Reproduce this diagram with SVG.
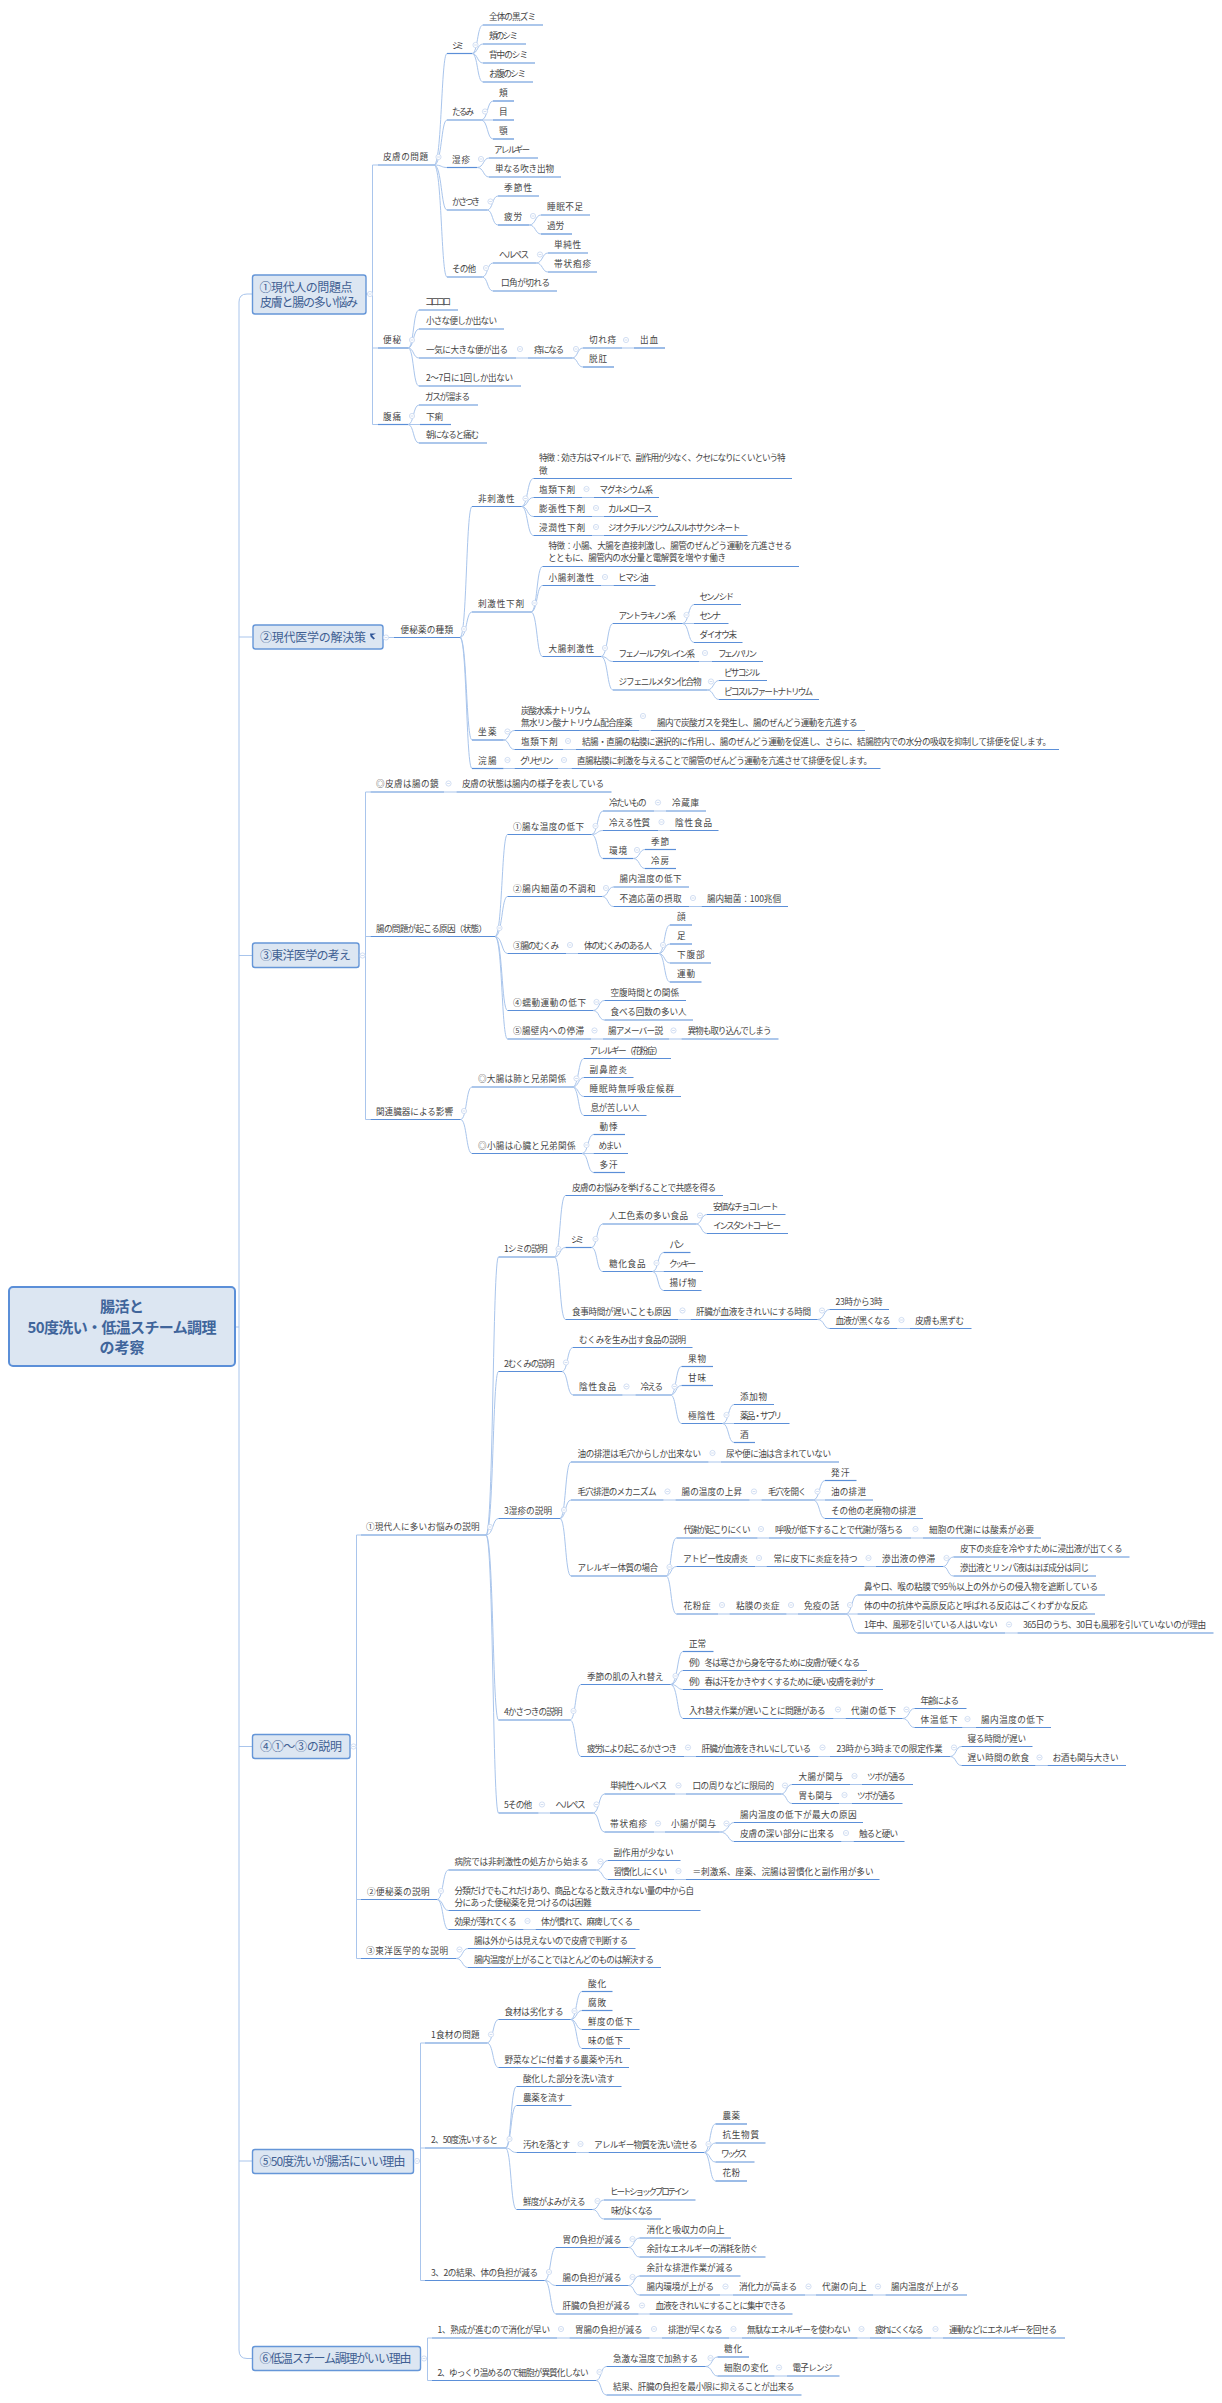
<svg xmlns="http://www.w3.org/2000/svg" width="1222" height="2403" viewBox="0 0 1222 2403">
<style>
text{font-family:"Noto Sans CJK JP","Liberation Sans",sans-serif;font-size:8.6px;fill:#444}
path{fill:none;stroke:#5b8fd8;stroke-width:1.2}
rect{fill:#dce6f2;stroke:#6596d8;stroke-width:1.4}
.l1{font-size:12px;fill:#3f5f92}
.r{font-size:15px;font-weight:700;fill:#40659b;text-anchor:middle}
#connectors path{stroke:#a9c5ec;stroke-width:1}
#b circle{fill:#fff;stroke:#c6d6ef;stroke-width:.8}
#b path{stroke:#c6d6ef;stroke-width:.8}
</style>
<defs><g id="b"><circle r="2.6"/><path d="M-1.4 0H1.4"/></g></defs>
<rect width="1222" height="2403" style="fill:#fff;stroke:none"/>
<g id="connectors">
<path d="M236 1327H239M252 294H247Q239 294 239 302V2350Q239 2358.5 247 2358.5H252M239 637H252M239 955.5H252M239 1746.5H252M239 2161H252"/>
<path d="M366 294H372.5M372.5 165V424.5M372.5 165H378M372.5 348H378M372.5 424.5H378"/>
<path d="M434 165C442 165 441 53.5 447 53.5M434 165C442 165 441 120 447 120M434 165C442 165 441 167.5 447 167.5M434 165C442 165 441 210 447 210M434 165C442 165 441 277 447 277"/>
<path d="M472 53.5C478 53.5 477 25 483 25M472 53.5C478 53.5 477 44 483 44M472 53.5C478 53.5 477 63 483 63M472 53.5C478 53.5 477 82 483 82"/>
<path d="M481 120C488 120 487 101 493 101M481 120H493M481 120C488 120 487 139 493 139"/>
<path d="M477 167.5C484 167.5 483 158 489 158M477 167.5C484 167.5 483 177 489 177"/>
<path d="M487 210C493 210 492 196 498 196M487 210C493 210 492 225 498 225"/>
<path d="M529 225C536 225 535 215 541 215M529 225C536 225 535 234 541 234"/>
<path d="M482 277C488 277 487 263 493 263M482 277C488 277 487 291 493 291"/>
<path d="M536 263C543 263 542 253 548 253M536 263C543 263 542 272 548 272"/>
<path d="M408 348C414 348 413 310 419 310M408 348C414 348 413 329 419 329M408 348C414 348 413 358 419 358M408 348C414 348 413 386 419 386"/>
<path d="M516 358H528M572 358C578 358 577 348 583 348M572 358C578 358 577 367 583 367M622 348H634"/>
<path d="M408 424.5C414 424.5 413 405 419 405M408 424.5H420M408 424.5C414 424.5 413 443 419 443"/>
<path d="M383 637.5H394M460 637.5C467 637.5 466 506.5 472 506.5M460 637.5C467 637.5 466 612 472 612M460 637.5C467 637.5 466 740 472 740M460 637.5C467 637.5 466 768.5 472 768.5"/>
<path d="M521.5 506.5C528 506.5 527 478.5 533.5 478.5M521.5 506.5C528 506.5 527 497.5 533.5 497.5M521.5 506.5C528 506.5 527 516.5 533.5 516.5M521.5 506.5C528 506.5 527 535.5 533.5 535.5"/>
<path d="M582 497.5H594M592 516.5H604M592 535.5H604"/>
<path d="M531 612C537.5 612 536.5 566.5 542.5 566.5M531 612C537.5 612 536.5 585.5 542.5 585.5M531 612C537.5 612 536.5 656.5 542.5 656.5M601 585.5H613.5"/>
<path d="M601 656.5C608 656.5 607 623.5 613 623.5M601 656.5C608 656.5 607 661.5 613 661.5M601 656.5C608 656.5 607 690 613 690"/>
<path d="M682.5 623.5C689 623.5 688 604.5 694 604.5M682.5 623.5H694M682.5 623.5C689 623.5 688 642.5 694 642.5M699 661.5H712"/>
<path d="M707 690C714 690 713 680.5 719 680.5M707 690C714 690 713 699.5 719 699.5"/>
<path d="M503.5 740C509.5 740 508.5 730.5 514.5 730.5M503.5 740C509.5 740 508.5 749.5 514.5 749.5M639 730.5H651M563 749.5H576M503.5 768.5H514.5M558 768.5H571.5"/>
<path d="M359 955.5H365.5M365.5 792V1119.5M365.5 792H370.5M365.5 936.5H370.5M365.5 1119.5H370.5M444 792H456.5"/>
<path d="M495 936.5C502.5 936.5 501.5 834.5 507.5 834.5M495 936.5C502.5 936.5 501.5 896.5 507.5 896.5M495 936.5C502.5 936.5 501.5 953.5 507.5 953.5M495 936.5C502.5 936.5 501.5 1010.5 507.5 1010.5M495 936.5C502.5 936.5 501.5 1039 507.5 1039"/>
<path d="M591.5 834.5C598 834.5 597 811 603 811M591.5 834.5C598 834.5 597 830.5 603 830.5M591.5 834.5C598 834.5 597 858.5 603 858.5M654 811H666M658 830.5H670"/>
<path d="M633 858.5C640 858.5 639 849.5 645 849.5M633 858.5C640 858.5 639 868.5 645 868.5"/>
<path d="M602 896.5C608.5 896.5 607.5 887 613.5 887M602 896.5C608.5 896.5 607.5 906.5 613.5 906.5M689 906.5H701.5"/>
<path d="M566 953.5H578M658.5 953.5C665 953.5 664 925 670 925M658.5 953.5C665 953.5 664 944 670 944M658.5 953.5C665 953.5 664 963 670 963M658.5 953.5C665 953.5 664 982 670 982"/>
<path d="M593 1010.5C599.5 1010.5 598.5 1000.5 604.5 1000.5M593 1010.5C599.5 1010.5 598.5 1020 604.5 1020M591 1039H603M669 1039H681.5"/>
<path d="M460.5 1119.5C467 1119.5 466 1087 472 1087M460.5 1119.5C467 1119.5 466 1153.5 472 1153.5"/>
<path d="M572.5 1087C579 1087 578 1058.5 584 1058.5M572.5 1087C579 1087 578 1077.5 584 1077.5M572.5 1087C579 1087 578 1096.5 584 1096.5M572.5 1087C579 1087 578 1115.5 584 1115.5"/>
<path d="M582 1153.5C588.5 1153.5 587.5 1134.5 593.5 1134.5M582 1153.5H593.5M582 1153.5C588.5 1153.5 587.5 1172.5 593.5 1172.5"/>
<path d="M350 1746.5H356.5M356.5 1535V1958.5M356.5 1535H361M356.5 1899.5H361M356.5 1958.5H361"/>
<path d="M486 1535C493.5 1535 492.5 1257 498.5 1257M486 1535C493.5 1535 492.5 1371.5 498.5 1371.5M486 1535C493.5 1535 492.5 1518.5 498.5 1518.5M486 1535C493.5 1535 492.5 1720 498.5 1720M486 1535C493.5 1535 492.5 1813 498.5 1813"/>
<path d="M554.5 1257C560.5 1257 559.5 1195.5 565.5 1195.5M554.5 1257C560.5 1257 559.5 1247.5 565.5 1247.5M554.5 1257C560.5 1257 559.5 1319.5 565.5 1319.5"/>
<path d="M591.5 1247.5C597.5 1247.5 596.5 1224 602.5 1224M591.5 1247.5C597.5 1247.5 596.5 1271.5 602.5 1271.5"/>
<path d="M696 1224C702 1224 701 1214.5 707 1214.5M696 1224C702 1224 701 1233.5 707 1233.5"/>
<path d="M652.5 1271.5C658.5 1271.5 657.5 1252.5 663.5 1252.5M652.5 1271.5H663.5M652.5 1271.5C658.5 1271.5 657.5 1290.5 663.5 1290.5"/>
<path d="M678 1319.5H690.5M817.5 1319.5C824.5 1319.5 823.5 1309.5 829.5 1309.5M817.5 1319.5C824.5 1319.5 823.5 1328.5 829.5 1328.5M897 1328.5H910"/>
<path d="M562 1371.5C568 1371.5 567 1347.5 573 1347.5M562 1371.5C568 1371.5 567 1395 573 1395M622.5 1395H635.5"/>
<path d="M670.5 1395C676.5 1395 675.5 1366.5 681.5 1366.5M670.5 1395C676.5 1395 675.5 1385.5 681.5 1385.5M670.5 1395C676.5 1395 675.5 1423.5 681.5 1423.5"/>
<path d="M722.5 1423.5C729 1423.5 728 1404.5 734 1404.5M722.5 1423.5H734M722.5 1423.5C729 1423.5 728 1442.5 734 1442.5"/>
<path d="M560 1518.5C566 1518.5 565 1462 571 1462M560 1518.5C566 1518.5 565 1500 571 1500M560 1518.5C566 1518.5 565 1576 571 1576M708.5 1462H721M663.5 1500H675.5M749.5 1500H761.5"/>
<path d="M813 1500C820 1500 819 1480.5 825 1480.5M813 1500H825M813 1500C820 1500 819 1518.5 825 1518.5"/>
<path d="M666 1576C671.5 1576 670.5 1538 676.5 1538M666 1576C671.5 1576 670.5 1566.5 676.5 1566.5M666 1576C671.5 1576 670.5 1614 676.5 1614M757.5 1538H769M911 1538H923M755 1566.5H766.5M864.5 1566.5H876"/>
<path d="M943 1566.5C948.5 1566.5 947.5 1557 953.5 1557M943 1566.5C948.5 1566.5 947.5 1576 953.5 1576M718 1614H729.5M786.5 1614H798"/>
<path d="M845.5 1614C852.5 1614 851.5 1595 857.5 1595M845.5 1614H857.5M845.5 1614C852.5 1614 851.5 1633 857.5 1633M1005 1633H1017.5"/>
<path d="M570 1720C576 1720 575 1684.5 581 1684.5M570 1720C576 1720 575 1756.5 581 1756.5"/>
<path d="M670.5 1684.5C678 1684.5 677 1651.5 683 1651.5M670.5 1684.5C678 1684.5 677 1670.5 683 1670.5M670.5 1684.5C678 1684.5 677 1689.5 683 1689.5M670.5 1684.5C678 1684.5 677 1718.5 683 1718.5M833.5 1718.5H845.5"/>
<path d="M902.5 1718.5C909.5 1718.5 908.5 1708.5 914.5 1708.5M902.5 1718.5C909.5 1718.5 908.5 1727.5 914.5 1727.5M962.5 1727.5H976"/>
<path d="M684 1756.5H696M818.5 1756.5H830M950 1756.5C956.5 1756.5 955.5 1746.5 961.5 1746.5M950 1756.5C956.5 1756.5 955.5 1765.5 961.5 1765.5M1035.5 1765.5H1047.5"/>
<path d="M538.5 1813H550M593 1813C599.5 1813 598.5 1794 604.5 1794M593 1813C599.5 1813 598.5 1832 604.5 1832M675 1794H686"/>
<path d="M781 1794C787 1794 786 1784.5 792 1784.5M781 1794C787 1794 786 1803.5 792 1803.5M850 1784.5H862M839 1803.5H852"/>
<path d="M654 1832H665M719.5 1832C729 1832 728 1822.5 734 1822.5M719.5 1832C729 1832 728 1841.5 734 1841.5M841.5 1841.5H853.5"/>
<path d="M437 1899.5C443.5 1899.5 442.5 1870 448.5 1870M437 1899.5C443.5 1899.5 442.5 1910.5 448.5 1910.5M437 1899.5C443.5 1899.5 442.5 1929.5 448.5 1929.5M523.5 1929.5H535.5"/>
<path d="M596 1870C603 1870 602 1860.5 608 1860.5M596 1870C603 1870 602 1879.5 608 1879.5M674 1879.5H686"/>
<path d="M456 1958.5C463 1958.5 462 1948.5 468 1948.5M456 1958.5C463 1958.5 462 1967.5 468 1967.5"/>
<path d="M413.5 2161H420.5M420.5 2043V2280.5M420.5 2043H425M420.5 2148H425M420.5 2280.5H425"/>
<path d="M487 2043C493.5 2043 492.5 2019.5 498.5 2019.5M487 2043C493.5 2043 492.5 2067.5 498.5 2067.5"/>
<path d="M570.5 2019.5C577 2019.5 576 1991.5 582 1991.5M570.5 2019.5C577 2019.5 576 2010.5 582 2010.5M570.5 2019.5C577 2019.5 576 2029.5 582 2029.5M570.5 2019.5C577 2019.5 576 2048.5 582 2048.5"/>
<path d="M505.5 2148C511.5 2148 510.5 2086.5 516.5 2086.5M505.5 2148C511.5 2148 510.5 2105.5 516.5 2105.5M505.5 2148C511.5 2148 510.5 2152.5 516.5 2152.5M505.5 2148C511.5 2148 510.5 2209.5 516.5 2209.5M576 2152.5H588.5"/>
<path d="M704 2152.5C710.5 2152.5 709.5 2124 715.5 2124M704 2152.5C710.5 2152.5 709.5 2143 715.5 2143M704 2152.5C710.5 2152.5 709.5 2162 715.5 2162M704 2152.5C710.5 2152.5 709.5 2181 715.5 2181"/>
<path d="M592.5 2209.5C599 2209.5 598 2200 604 2200M592.5 2209.5C599 2209.5 598 2219 604 2219"/>
<path d="M544.5 2280.5C551 2280.5 550 2247.5 556 2247.5M544.5 2280.5C551 2280.5 550 2285.5 556 2285.5M544.5 2280.5C551 2280.5 550 2314 556 2314"/>
<path d="M628.5 2247.5C634.5 2247.5 633.5 2238 639.5 2238M628.5 2247.5C634.5 2247.5 633.5 2257 639.5 2257M628.5 2285.5C634.5 2285.5 633.5 2276 639.5 2276M628.5 2285.5C634.5 2285.5 633.5 2295 639.5 2295"/>
<path d="M720 2295H733M805 2295H816M873 2295H885.5M638.5 2314H649.5"/>
<path d="M420.5 2358.5H427.5M427.5 2338V2380.5M427.5 2338H432M427.5 2380.5H432M557 2338H569.5M649.5 2338H662M729 2338H742M857.5 2338H870M931 2338H943"/>
<path d="M596 2380.5C601.5 2380.5 600.5 2366.5 606.5 2366.5M596 2380.5C601.5 2380.5 600.5 2395 606.5 2395"/>
<path d="M705.5 2366.5C712.5 2366.5 711.5 2357 717.5 2357M705.5 2366.5C712.5 2366.5 711.5 2376 717.5 2376M774.5 2376H787"/>
</g>
<g id="root"><rect x="9" y="1287" width="226" height="79" rx="4" style="stroke-width:2;stroke:#5b8fd8"/><text class="r" x="122" y="1312" textLength="44">腸活と</text><text class="r" x="122" y="1332.5" textLength="189">50度洗い・低温スチーム調理</text><text class="r" x="122" y="1353" textLength="45">の考察</text></g>
<g id="t1"><rect x="252.5" y="275" width="113.5" height="39" rx="2.5"/><text class="l1" x="259.5" y="291.5" textLength="93">①現代人の問題点</text><text class="l1" x="260" y="306.5" textLength="98">皮膚と腸の多い悩み</text><use href="#b" x="370" y="294"/></g>
<g id="n1"><text x="383" y="160" textLength="45">皮膚の問題</text><path d="M378 165H434"/><use href="#b" x="438.5" y="157"/></g>
<g id="n2"><text x="452" y="48.5" textLength="12">シミ</text><path d="M447 53.5H472"/><use href="#b" x="475.5" y="45"/></g>
<g id="n3"><text x="489" y="20" textLength="47">全体の黒ズミ</text><path d="M483 25H543"/></g>
<g id="n4"><text x="489" y="39" textLength="29">頬のシミ</text><path d="M483 44H526"/></g>
<g id="n5"><text x="489" y="58" textLength="39">背中のシミ</text><path d="M483 63H535"/></g>
<g id="n6"><text x="489" y="77" textLength="37">お腹のシミ</text><path d="M483 82H533"/></g>
<g id="n7"><text x="452" y="115" textLength="22">たるみ</text><path d="M447 120H481"/><use href="#b" x="485" y="111.5"/></g>
<g id="n8"><text x="499" y="96" textLength="8">頬</text><path d="M493 101H514"/></g>
<g id="n9"><text x="499" y="115" textLength="8">目</text><path d="M493 120H514"/></g>
<g id="n10"><text x="499" y="134" textLength="8">顎</text><path d="M493 139H514"/></g>
<g id="n11"><text x="452" y="162.5" textLength="18">湿疹</text><path d="M447 167.5H477"/><use href="#b" x="481" y="159"/></g>
<g id="n12"><text x="494" y="153" textLength="36">アレルギー</text><path d="M489 158H538"/></g>
<g id="n13"><text x="495" y="172" textLength="59">単なる吹き出物</text><path d="M489 177H561"/></g>
<g id="n14"><text x="452" y="205" textLength="28">かさつき</text><path d="M447 210H487"/><use href="#b" x="490.5" y="201.5"/></g>
<g id="n15"><text x="504" y="191" textLength="28">季節性</text><path d="M498 196H539"/></g>
<g id="n16"><text x="504" y="220" textLength="18">疲労</text><path d="M498 225H529"/><use href="#b" x="533" y="216"/></g>
<g id="n17"><text x="547" y="210" textLength="36">睡眠不足</text><path d="M541 215H590"/></g>
<g id="n18"><text x="547" y="229" textLength="17">過労</text><path d="M541 234H572"/></g>
<g id="n19"><text x="452" y="272" textLength="24">その他</text><path d="M447 277H482"/><use href="#b" x="486" y="268"/></g>
<g id="n20"><text x="499" y="258" textLength="30">ヘルペス</text><path d="M493 263H536"/><use href="#b" x="540" y="254.5"/></g>
<g id="n21"><text x="554" y="248" textLength="27">単純性</text><path d="M548 253H588"/></g>
<g id="n22"><text x="554" y="267" textLength="37">帯状疱疹</text><path d="M548 272H597"/></g>
<g id="n23"><text x="501" y="286" textLength="49">口角が切れる</text><path d="M493 291H557"/></g>
<g id="n24"><text x="383" y="343" textLength="18">便秘</text><path d="M378 348H408"/><use href="#b" x="412" y="340"/></g>
<g id="n25"><text x="425" y="305" textLength="26">コロコロ</text><path d="M419 310H458"/></g>
<g id="n26"><text x="426" y="324" textLength="71">小さな便しか出ない</text><path d="M419 329H504"/></g>
<g id="n27"><text x="426" y="353" textLength="82">一気に大きな便が出る</text><path d="M419 358H516"/><use href="#b" x="520" y="349"/></g>
<g id="n28"><text x="534" y="353" textLength="30">痔になる</text><path d="M528 358H572"/><use href="#b" x="576" y="349"/></g>
<g id="n29"><text x="589" y="343" textLength="27">切れ痔</text><path d="M583 348H622"/><use href="#b" x="626" y="340"/></g>
<g id="n30"><text x="640" y="343" textLength="18">出血</text><path d="M634 348H665"/></g>
<g id="n31"><text x="589" y="362" textLength="18">脱肛</text><path d="M583 367H614"/></g>
<g id="n32"><text x="426" y="381" textLength="87">2～7日に1回しか出ない</text><path d="M419 386H521"/></g>
<g id="n33"><text x="383" y="419.5" textLength="18">腹痛</text><path d="M378 424.5H408"/><use href="#b" x="412" y="416"/></g>
<g id="n34"><text x="425" y="400" textLength="45">ガスが溜まる</text><path d="M419 405H478"/></g>
<g id="n35"><text x="426" y="419.5" textLength="17">下痢</text><path d="M420 424.5H451"/></g>
<g id="n36"><text x="426" y="438" textLength="53">朝になると痛む</text><path d="M419 443H487"/></g>
<g id="t2"><rect x="253" y="625" width="130" height="24" rx="2.5"/><text class="l1" x="260" y="641.5" textLength="106">②現代医学の解決策</text><path d="M370 633.5h6l-4 2 3 3-1.5 1-3-3z" style="fill:#2f5597;stroke:none"/><use href="#b" x="386" y="637.5"/></g>
<g id="n37"><text x="400.5" y="632.5" textLength="52.5">便秘薬の種類</text><path d="M394 637.5H460"/><use href="#b" x="464" y="629"/></g>
<g id="n38"><text x="478" y="501.5" textLength="36.5">非刺激性</text><path d="M472 506.5H521.5"/><use href="#b" x="525.5" y="498.5"/></g>
<g id="n39"><text x="539" y="461" textLength="246.5">特徴：効き方はマイルドで、副作用が少なく、クセになりにくいという特</text><text x="539" y="473.5" textLength="10">徴</text><path d="M533.5 478.5H792"/></g>
<g id="n40"><text x="539" y="492.5" textLength="36">塩類下剤</text><path d="M533.5 497.5H582"/><use href="#b" x="586.5" y="489"/></g>
<g id="n41"><text x="599.5" y="492.5" textLength="53.5">マグネシウム系</text><path d="M594 497.5H659"/></g>
<g id="n42"><text x="539" y="511.5" textLength="46">膨張性下剤</text><path d="M533.5 516.5H592"/><use href="#b" x="596" y="508"/></g>
<g id="n43"><text x="608" y="511.5" textLength="44">カルメロース</text><path d="M604 516.5H658"/></g>
<g id="n44"><text x="539" y="530.5" textLength="46">浸潤性下剤</text><path d="M533.5 535.5H592"/><use href="#b" x="596" y="527"/></g>
<g id="n45"><text x="608" y="530.5" textLength="132.5">ジオクチルソジウムスルホサクシネート</text><path d="M604 535.5H747.5"/></g>
<g id="n46"><text x="478" y="607" textLength="46">刺激性下剤</text><path d="M472 612H531"/><use href="#b" x="534.5" y="603"/></g>
<g id="n47"><text x="548.5" y="549" textLength="243.5">特徴：小腸、大腸を直接刺激し、腸管のぜんどう運動を亢進させる</text><text x="548" y="561" textLength="178">とともに、腸管内の水分量と電解質を増やす働き</text><path d="M542.5 566.5H799"/></g>
<g id="n48"><text x="548.5" y="580.5" textLength="45.5">小腸刺激性</text><path d="M542.5 585.5H601"/><use href="#b" x="605" y="577"/></g>
<g id="n49"><text x="618" y="580.5" textLength="30.5">ヒマシ油</text><path d="M613.5 585.5H655.5"/></g>
<g id="n50"><text x="548.5" y="651.5" textLength="45.5">大腸刺激性</text><path d="M542.5 656.5H601"/><use href="#b" x="605" y="648"/></g>
<g id="n51"><text x="618.5" y="618.5" textLength="57.5">アントラキノン系</text><path d="M613 623.5H682.5"/><use href="#b" x="686.5" y="615"/></g>
<g id="n52"><text x="699.5" y="599.5" textLength="34.5">センノシド</text><path d="M694 604.5H741"/></g>
<g id="n53"><text x="699.5" y="618.5" textLength="21.5">センナ</text><path d="M694 623.5H728.5"/></g>
<g id="n54"><text x="699.5" y="637.5" textLength="37.5">ダイオウ末</text><path d="M694 642.5H742.5"/></g>
<g id="n55"><text x="618.5" y="656.5" textLength="76.5">フェノールフタレイン系</text><path d="M613 661.5H699"/><use href="#b" x="705" y="653"/></g>
<g id="n56"><text x="718" y="656.5" textLength="39">フェノバリン</text><path d="M712 661.5H763"/></g>
<g id="n57"><text x="618.5" y="685" textLength="83">ジフェニルメタン化合物</text><path d="M613 690H707"/><use href="#b" x="711" y="681.5"/></g>
<g id="n58"><text x="724" y="675.5" textLength="36">ビサコジル</text><path d="M719 680.5H767"/></g>
<g id="n59"><text x="724" y="694.5" textLength="89">ピコスルファートナトリウム</text><path d="M719 699.5H819"/></g>
<g id="n60"><text x="478" y="735" textLength="18.5">坐薬</text><path d="M472 740H503.5"/><use href="#b" x="507.5" y="731.5"/></g>
<g id="n61"><text x="521" y="713.5" textLength="69.5">炭酸水素ナトリウム</text><text x="521" y="725.5" textLength="111.5">無水リン酸ナトリウム配合座薬</text><path d="M514.5 730.5H639"/><use href="#b" x="643" y="716"/></g>
<g id="n62"><text x="657" y="725.5" textLength="200.5">腸内で炭酸ガスを発生し、腸のぜんどう運動を亢進する</text><path d="M651 730.5H865"/></g>
<g id="n63"><text x="521" y="744.5" textLength="36.5">塩類下剤</text><path d="M514.5 749.5H563"/><use href="#b" x="568" y="741"/></g>
<g id="n64"><text x="582" y="744.5" textLength="469">結腸・直腸の粘膜に選択的に作用し、腸のぜんどう運動を促進し、さらに、結腸腔内での水分の吸収を抑制して排便を促します。</text><path d="M576 749.5H1059"/></g>
<g id="n65"><text x="478" y="763.5" textLength="18.5">浣腸</text><path d="M472 768.5H503.5"/><use href="#b" x="507.5" y="760"/></g>
<g id="n66"><text x="520" y="763.5" textLength="33.5">グリセリン</text><path d="M514.5 768.5H558"/><use href="#b" x="564" y="760"/></g>
<g id="n67"><text x="577" y="763.5" textLength="295">直腸粘膜に刺激を与えることで腸管のぜんどう運動を亢進させて排便を促します。</text><path d="M571.5 768.5H880.5"/></g>
<g id="t3"><rect x="252.5" y="943" width="106.5" height="24.5" rx="2.5"/><text class="l1" x="260" y="960" textLength="91">③東洋医学の考え</text><use href="#b" x="362.5" y="955.5"/></g>
<g id="n68"><text x="376" y="787" textLength="62.5">◎皮膚は腸の鏡</text><path d="M370.5 792H444"/><use href="#b" x="448.5" y="783.5"/></g>
<g id="n69"><text x="462" y="787" textLength="142">皮膚の状態は腸内の様子を表している</text><path d="M456.5 792H611.5"/></g>
<g id="n70"><text x="376" y="931.5" textLength="111">腸の問題が起こる原因（状態）</text><path d="M370.5 936.5H495"/><use href="#b" x="499.5" y="928"/></g>
<g id="n71"><text x="513" y="829.5" textLength="71">①腸な温度の低下</text><path d="M507.5 834.5H591.5"/><use href="#b" x="595.5" y="826"/></g>
<g id="n72"><text x="609" y="806" textLength="37.5">冷たいもの</text><path d="M603 811H654"/><use href="#b" x="658" y="802.5"/></g>
<g id="n73"><text x="672" y="806" textLength="27">冷蔵庫</text><path d="M666 811H706"/></g>
<g id="n74"><text x="609" y="825.5" textLength="41">冷える性質</text><path d="M603 830.5H658"/><use href="#b" x="661.5" y="822"/></g>
<g id="n75"><text x="675" y="825.5" textLength="37">陰性食品</text><path d="M670 830.5H718.5"/></g>
<g id="n76"><text x="609" y="853.5" textLength="18">環境</text><path d="M603 858.5H633"/><use href="#b" x="637" y="850"/></g>
<g id="n77"><text x="651" y="844.5" textLength="18">季節</text><path d="M645 849.5H676"/></g>
<g id="n78"><text x="651" y="863.5" textLength="18">冷房</text><path d="M645 868.5H676"/></g>
<g id="n79"><text x="513" y="891.5" textLength="82.5">②腸内細菌の不調和</text><path d="M507.5 896.5H602"/><use href="#b" x="606" y="888"/></g>
<g id="n80"><text x="619.5" y="882" textLength="62">腸内温度の低下</text><path d="M613.5 887H689"/></g>
<g id="n81"><text x="619.5" y="901.5" textLength="62">不適応菌の摂取</text><path d="M613.5 906.5H689"/><use href="#b" x="693" y="898"/></g>
<g id="n82"><text x="707" y="901.5" textLength="74">腸内細菌：100兆個</text><path d="M701.5 906.5H788"/></g>
<g id="n83"><text x="513" y="948.5" textLength="46">③腸のむくみ</text><path d="M507.5 953.5H566"/><use href="#b" x="570" y="945"/></g>
<g id="n84"><text x="584" y="948.5" textLength="68">体のむくみのある人</text><path d="M578 953.5H658.5"/><use href="#b" x="663" y="945"/></g>
<g id="n85"><text x="677" y="920" textLength="8.5">顔</text><path d="M670 925H692"/></g>
<g id="n86"><text x="677" y="939" textLength="8.5">足</text><path d="M670 944H692"/></g>
<g id="n87"><text x="677" y="958" textLength="27.5">下腹部</text><path d="M670 963H711"/></g>
<g id="n88"><text x="677" y="977" textLength="18">運動</text><path d="M670 982H701.5"/></g>
<g id="n89"><text x="513" y="1005.5" textLength="73">④蠕動運動の低下</text><path d="M507.5 1010.5H593"/><use href="#b" x="596.5" y="1002"/></g>
<g id="n90"><text x="610.5" y="995.5" textLength="68.5">空腹時間との関係</text><path d="M604.5 1000.5H686"/></g>
<g id="n91"><text x="610.5" y="1015" textLength="76">食べる回数の多い人</text><path d="M604.5 1020H693"/></g>
<g id="n92"><text x="513" y="1034" textLength="71">⑤腸壁内への停滞</text><path d="M507.5 1039H591"/><use href="#b" x="594.5" y="1030.5"/></g>
<g id="n93"><text x="608" y="1034" textLength="55">腸アメーバー説</text><path d="M603 1039H669"/><use href="#b" x="673.5" y="1030.5"/></g>
<g id="n94"><text x="687.5" y="1034" textLength="84">異物も取り込んでしまう</text><path d="M681.5 1039H778.5"/></g>
<g id="n95"><text x="376" y="1114.5" textLength="77">関連臓器による影響</text><path d="M370.5 1119.5H460.5"/><use href="#b" x="464" y="1111"/></g>
<g id="n96"><text x="478" y="1082" textLength="88">◎大腸は肺と兄弟関係</text><path d="M472 1087H572.5"/><use href="#b" x="576.5" y="1078.5"/></g>
<g id="n97"><text x="589.5" y="1053.5" textLength="73">アレルギー（花粉症）</text><path d="M584 1058.5H671"/></g>
<g id="n98"><text x="589.5" y="1072.5" textLength="37.5">副鼻腔炎</text><path d="M584 1077.5H633.5"/></g>
<g id="n99"><text x="589.5" y="1091.5" textLength="84.5">睡眠時無呼吸症候群</text><path d="M584 1096.5H681"/></g>
<g id="n100"><text x="590.5" y="1110.5" textLength="49">息が苦しい人</text><path d="M584 1115.5H646.5"/></g>
<g id="n101"><text x="478" y="1148.5" textLength="97.5">◎小腸は心臓と兄弟関係</text><path d="M472 1153.5H582"/><use href="#b" x="586.5" y="1145"/></g>
<g id="n102"><text x="599.5" y="1129.5" textLength="18">動悸</text><path d="M593.5 1134.5H625"/></g>
<g id="n103"><text x="598.5" y="1148.5" textLength="23">めまい</text><path d="M593.5 1153.5H628"/></g>
<g id="n104"><text x="599.5" y="1167.5" textLength="18">多汗</text><path d="M593.5 1172.5H625"/></g>
<g id="t4"><rect x="252.5" y="1734.5" width="97.5" height="24" rx="2.5"/><text class="l1" x="260" y="1751" textLength="82">④①～③の説明</text><use href="#b" x="353.5" y="1746.5"/></g>
<g id="n105"><text x="366" y="1530" textLength="113.5">①現代人に多いお悩みの説明</text><path d="M361 1535H486"/><use href="#b" x="490" y="1527"/></g>
<g id="n106"><text x="504" y="1252" textLength="43.5">1シミの説明</text><path d="M498.5 1257H554.5"/><use href="#b" x="558.5" y="1249"/></g>
<g id="n107"><text x="572" y="1190.5" textLength="144">皮膚のお悩みを挙げることで共感を得る</text><path d="M565.5 1195.5H723"/></g>
<g id="n108"><text x="571" y="1242.5" textLength="13">シミ</text><path d="M565.5 1247.5H591.5"/><use href="#b" x="595.5" y="1239"/></g>
<g id="n109"><text x="609" y="1219" textLength="79">人工色素の多い食品</text><path d="M602.5 1224H696"/><use href="#b" x="700" y="1215.5"/></g>
<g id="n110"><text x="713" y="1209.5" textLength="65.5">安価なチョコレート</text><path d="M707 1214.5H785.5"/></g>
<g id="n111"><text x="713" y="1228.5" textLength="68">インスタントコーヒー</text><path d="M707 1233.5H788"/></g>
<g id="n112"><text x="609" y="1266.5" textLength="36.5">糖化食品</text><path d="M602.5 1271.5H652.5"/><use href="#b" x="656.5" y="1263"/></g>
<g id="n113"><text x="669.5" y="1247.5" textLength="14.5">パン</text><path d="M663.5 1252.5H690.5"/></g>
<g id="n114"><text x="669" y="1266.5" textLength="27">クッキー</text><path d="M663.5 1271.5H703"/></g>
<g id="n115"><text x="669.5" y="1285.5" textLength="26.5">揚げ物</text><path d="M663.5 1290.5H701.5"/></g>
<g id="n116"><text x="572" y="1314.5" textLength="99">食事時間が遅いことも原因</text><path d="M565.5 1319.5H678"/><use href="#b" x="682.5" y="1310.5"/></g>
<g id="n117"><text x="696" y="1314.5" textLength="115">肝臓が血液をきれいにする時間</text><path d="M690.5 1319.5H817.5"/><use href="#b" x="822" y="1310.5"/></g>
<g id="n118"><text x="835.5" y="1304.5" textLength="47">23時から3時</text><path d="M829.5 1309.5H889"/></g>
<g id="n119"><text x="835.5" y="1323.5" textLength="55">血液が黒くなる</text><path d="M829.5 1328.5H897"/><use href="#b" x="901.5" y="1320"/></g>
<g id="n120"><text x="915" y="1323.5" textLength="49">皮膚も黒ずむ</text><path d="M910 1328.5H971.5"/></g>
<g id="n121"><text x="504" y="1366.5" textLength="50.5">2むくみの説明</text><path d="M498.5 1371.5H562"/><use href="#b" x="566" y="1362.5"/></g>
<g id="n122"><text x="579" y="1342.5" textLength="107">むくみを生み出す食品の説明</text><path d="M573 1347.5H692.5"/></g>
<g id="n123"><text x="579" y="1390" textLength="37">陰性食品</text><path d="M573 1395H622.5"/><use href="#b" x="626.5" y="1386.5"/></g>
<g id="n124"><text x="640.5" y="1390" textLength="22.5">冷える</text><path d="M635.5 1395H670.5"/><use href="#b" x="674.5" y="1386.5"/></g>
<g id="n125"><text x="688" y="1361.5" textLength="18">果物</text><path d="M681.5 1366.5H713"/></g>
<g id="n126"><text x="688" y="1380.5" textLength="18">甘味</text><path d="M681.5 1385.5H713"/></g>
<g id="n127"><text x="688" y="1418.5" textLength="27">極陰性</text><path d="M681.5 1423.5H722.5"/><use href="#b" x="726.5" y="1415"/></g>
<g id="n128"><text x="740" y="1399.5" textLength="27">添加物</text><path d="M734 1404.5H774"/></g>
<g id="n129"><text x="740" y="1418.5" textLength="42">薬品・サプリ</text><path d="M734 1423.5H789.5"/></g>
<g id="n130"><text x="740" y="1437.5" textLength="8.5">酒</text><path d="M734 1442.5H755"/></g>
<g id="n131"><text x="504" y="1513.5" textLength="48">3湿疹の説明</text><path d="M498.5 1518.5H560"/><use href="#b" x="564" y="1510"/></g>
<g id="n132"><text x="577.5" y="1457" textLength="123.5">油の排泄は毛穴からしか出来ない</text><path d="M571 1462H708.5"/><use href="#b" x="712.5" y="1453"/></g>
<g id="n133"><text x="726" y="1457" textLength="105">尿や便に油は含まれていない</text><path d="M721 1462H839"/></g>
<g id="n134"><text x="577.5" y="1495" textLength="79">毛穴排泄のメカニズム</text><path d="M571 1500H663.5"/><use href="#b" x="667.5" y="1491.5"/></g>
<g id="n135"><text x="681.5" y="1495" textLength="60.5">腸の温度の上昇</text><path d="M675.5 1500H749.5"/><use href="#b" x="754" y="1491.5"/></g>
<g id="n136"><text x="768" y="1495" textLength="38.5">毛穴を開く</text><path d="M761.5 1500H813"/><use href="#b" x="817.5" y="1491.5"/></g>
<g id="n137"><text x="831" y="1475.5" textLength="18.5">発汗</text><path d="M825 1480.5H856.5"/></g>
<g id="n138"><text x="831" y="1495" textLength="35">油の排泄</text><path d="M825 1500H873"/></g>
<g id="n139"><text x="831" y="1513.5" textLength="85">その他の老廃物の排泄</text><path d="M825 1518.5H923"/></g>
<g id="n140"><text x="577.5" y="1571" textLength="80.5">アレルギー体質の場合</text><path d="M571 1576H666"/><use href="#b" x="669.5" y="1567"/></g>
<g id="n141"><text x="683.5" y="1533" textLength="67">代謝が起こりにくい</text><path d="M676.5 1538H757.5"/><use href="#b" x="761" y="1529"/></g>
<g id="n142"><text x="775" y="1533" textLength="128">呼吸が低下することで代謝が落ちる</text><path d="M769 1538H911"/><use href="#b" x="915.5" y="1529"/></g>
<g id="n143"><text x="929" y="1533" textLength="105">細胞の代謝には酸素が必要</text><path d="M923 1538H1041"/></g>
<g id="n144"><text x="683" y="1561.5" textLength="65">アトピー性皮膚炎</text><path d="M676.5 1566.5H755"/><use href="#b" x="759" y="1558"/></g>
<g id="n145"><text x="773.5" y="1561.5" textLength="84">常に皮下に炎症を持つ</text><path d="M766.5 1566.5H864.5"/><use href="#b" x="868.5" y="1558"/></g>
<g id="n146"><text x="882" y="1561.5" textLength="53">滲出液の停滞</text><path d="M876 1566.5H943"/><use href="#b" x="946.5" y="1558"/></g>
<g id="n147"><text x="960" y="1552" textLength="162.5">皮下の炎症を冷やすために浸出液が出てくる</text><path d="M953.5 1557H1129.5"/></g>
<g id="n148"><text x="960" y="1571" textLength="129">滲出液とリンパ液はほぼ成分は同じ</text><path d="M953.5 1576H1096"/></g>
<g id="n149"><text x="683.5" y="1609" textLength="27">花粉症</text><path d="M676.5 1614H718"/><use href="#b" x="722" y="1605"/></g>
<g id="n150"><text x="736" y="1609" textLength="43.5">粘膜の炎症</text><path d="M729.5 1614H786.5"/><use href="#b" x="791" y="1605"/></g>
<g id="n151"><text x="804" y="1609" textLength="35">免疫の話</text><path d="M798 1614H845.5"/><use href="#b" x="850" y="1605"/></g>
<g id="n152"><text x="864" y="1590" textLength="234">鼻や口、喉の粘膜で95％以上の外からの侵入物を遮断している</text><path d="M857.5 1595H1105"/></g>
<g id="n153"><text x="864" y="1609" textLength="223.5">体の中の抗体や高原反応と呼ばれる反応はごくわずかな反応</text><path d="M857.5 1614H1095"/></g>
<g id="n154"><text x="864" y="1628" textLength="133.5">1年中、風邪を引いている人はいない</text><path d="M857.5 1633H1005"/><use href="#b" x="1009" y="1624.5"/></g>
<g id="n155"><text x="1023" y="1628" textLength="183">365日のうち、30日も風邪を引いていないのが理由</text><path d="M1017.5 1633H1213.5"/></g>
<g id="n156"><text x="504" y="1715" textLength="58.5">4かさつきの説明</text><path d="M498.5 1720H570"/><use href="#b" x="573.5" y="1711"/></g>
<g id="n157"><text x="587" y="1679.5" textLength="76.5">季節の肌の入れ替え</text><path d="M581 1684.5H670.5"/><use href="#b" x="675.5" y="1676"/></g>
<g id="n158"><text x="689" y="1646.5" textLength="17">正常</text><path d="M683 1651.5H713.5"/></g>
<g id="n159"><text x="689" y="1665.5" textLength="171">例）冬は寒さから身を守るために皮膚が硬くなる</text><path d="M683 1670.5H867"/></g>
<g id="n160"><text x="689" y="1684.5" textLength="186.5">例）春は汗をかきやすくするために硬い皮膚を剥がす</text><path d="M683 1689.5H883"/></g>
<g id="n161"><text x="689" y="1713.5" textLength="136.5">入れ替え作業が遅いことに問題がある</text><path d="M683 1718.5H833.5"/><use href="#b" x="838" y="1709.5"/></g>
<g id="n162"><text x="851" y="1713.5" textLength="45">代謝の低下</text><path d="M845.5 1718.5H902.5"/><use href="#b" x="906.5" y="1709.5"/></g>
<g id="n163"><text x="920.5" y="1703.5" textLength="38.5">年齢による</text><path d="M914.5 1708.5H966.5"/></g>
<g id="n164"><text x="920.5" y="1722.5" textLength="37">体温低下</text><path d="M914.5 1727.5H962.5"/><use href="#b" x="967.5" y="1719"/></g>
<g id="n165"><text x="981" y="1722.5" textLength="63">腸内温度の低下</text><path d="M976 1727.5H1051"/></g>
<g id="n166"><text x="587" y="1751.5" textLength="90">疲労により起こるかさつき</text><path d="M581 1756.5H684"/><use href="#b" x="688" y="1747.5"/></g>
<g id="n167"><text x="701.5" y="1751.5" textLength="109.5">肝臓が血液をきれいにしている</text><path d="M696 1756.5H818.5"/><use href="#b" x="822.5" y="1747.5"/></g>
<g id="n168"><text x="836.5" y="1751.5" textLength="106">23時から3時までの限定作業</text><path d="M830 1756.5H950"/><use href="#b" x="954" y="1747.5"/></g>
<g id="n169"><text x="967.5" y="1741.5" textLength="58.5">寝る時間が遅い</text><path d="M961.5 1746.5H1032.5"/></g>
<g id="n170"><text x="967.5" y="1760.5" textLength="61.5">遅い時間の飲食</text><path d="M961.5 1765.5H1035.5"/><use href="#b" x="1039.5" y="1757.5"/></g>
<g id="n171"><text x="1052.5" y="1760.5" textLength="66">お酒も関与大きい</text><path d="M1047.5 1765.5H1126"/></g>
<g id="n172"><text x="504" y="1808" textLength="28">5その他</text><path d="M498.5 1813H538.5"/><use href="#b" x="542" y="1804.5"/></g>
<g id="n173"><text x="555.5" y="1808" textLength="30">ヘルペス</text><path d="M550 1813H593"/><use href="#b" x="596.5" y="1804.5"/></g>
<g id="n174"><text x="610" y="1789" textLength="57">単純性ヘルペス</text><path d="M604.5 1794H675"/><use href="#b" x="678.5" y="1785.5"/></g>
<g id="n175"><text x="692.5" y="1789" textLength="81.5">口の周りなどに限局的</text><path d="M686 1794H781"/><use href="#b" x="785" y="1785.5"/></g>
<g id="n176"><text x="798.5" y="1779.5" textLength="44.5">大腸が関与</text><path d="M792 1784.5H850"/><use href="#b" x="854.5" y="1776"/></g>
<g id="n177"><text x="867" y="1779.5" textLength="38.5">ツボが通る</text><path d="M862 1784.5H913"/></g>
<g id="n178"><text x="798.5" y="1798.5" textLength="34">胃も関与</text><path d="M792 1803.5H839"/><use href="#b" x="844.5" y="1795"/></g>
<g id="n179"><text x="857" y="1798.5" textLength="38.5">ツボが通る</text><path d="M852 1803.5H902.5"/></g>
<g id="n180"><text x="610" y="1827" textLength="37">帯状疱疹</text><path d="M604.5 1832H654"/><use href="#b" x="658" y="1823.5"/></g>
<g id="n181"><text x="671" y="1827" textLength="45">小腸が関与</text><path d="M665 1832H719.5"/><use href="#b" x="726.5" y="1823.5"/></g>
<g id="n182"><text x="740" y="1817.5" textLength="116.5">腸内温度の低下が最大の原因</text><path d="M734 1822.5H863"/></g>
<g id="n183"><text x="740" y="1836.5" textLength="94.5">皮膚の深い部分に出来る</text><path d="M734 1841.5H841.5"/><use href="#b" x="846" y="1833"/></g>
<g id="n184"><text x="859" y="1836.5" textLength="39">触ると硬い</text><path d="M853.5 1841.5H904.5"/></g>
<g id="n185"><text x="367" y="1894.5" textLength="62.5">②便秘薬の説明</text><path d="M361 1899.5H437"/><use href="#b" x="441" y="1891"/></g>
<g id="n186"><text x="454.5" y="1865" textLength="134">病院では非刺激性の処方から始まる</text><path d="M448.5 1870H596"/><use href="#b" x="600.5" y="1861.5"/></g>
<g id="n187"><text x="613.5" y="1855.5" textLength="60">副作用が少ない</text><path d="M608 1860.5H680.5"/></g>
<g id="n188"><text x="613.5" y="1874.5" textLength="53.5">習慣化しにくい</text><path d="M608 1879.5H674"/><use href="#b" x="678.5" y="1871"/></g>
<g id="n189"><text x="692.5" y="1874.5" textLength="181">＝刺激系、座薬、浣腸は習慣化と副作用が多い</text><path d="M686 1879.5H879.5"/></g>
<g id="n190"><text x="454.5" y="1893.5" textLength="239.5">分類だけでもこれだけあり、商品となると数えきれない量の中から自</text><text x="454.5" y="1905.5" textLength="137">分にあった便秘薬を見つけるのは困難</text><path d="M448.5 1910.5H700.5"/></g>
<g id="n191"><text x="454.5" y="1924.5" textLength="62">効果が薄れてくる</text><path d="M448.5 1929.5H523.5"/><use href="#b" x="527.5" y="1921"/></g>
<g id="n192"><text x="541" y="1924.5" textLength="92">体が慣れて、麻痺してくる</text><path d="M535.5 1929.5H639.5"/></g>
<g id="n193"><text x="366" y="1953.5" textLength="82">③東洋医学的な説明</text><path d="M361 1958.5H456"/><use href="#b" x="459.5" y="1949.5"/></g>
<g id="n194"><text x="474" y="1943.5" textLength="154">腸は外からは見えないので皮膚で判断する</text><path d="M468 1948.5H635.5"/></g>
<g id="n195"><text x="474" y="1962.5" textLength="180">腸内温度が上がることでほとんどのものは解決する</text><path d="M468 1967.5H661"/></g>
<g id="t5"><rect x="252.5" y="2149.5" width="161" height="24" rx="2.5"/><text class="l1" x="259.5" y="2166" textLength="146">⑤50度洗いが腸活にいい理由</text><use href="#b" x="417" y="2161"/></g>
<g id="n196"><text x="431" y="2038" textLength="48.5">1食材の問題</text><path d="M425 2043H487"/><use href="#b" x="491" y="2034.5"/></g>
<g id="n197"><text x="504.5" y="2014.5" textLength="59">食材は劣化する</text><path d="M498.5 2019.5H570.5"/><use href="#b" x="574.5" y="2011"/></g>
<g id="n198"><text x="588" y="1986.5" textLength="18">酸化</text><path d="M582 1991.5H612.5"/></g>
<g id="n199"><text x="588" y="2005.5" textLength="18">腐敗</text><path d="M582 2010.5H612.5"/></g>
<g id="n200"><text x="588" y="2024.5" textLength="44.5">鮮度の低下</text><path d="M582 2029.5H639.5"/></g>
<g id="n201"><text x="588" y="2043.5" textLength="35">味の低下</text><path d="M582 2048.5H630"/></g>
<g id="n202"><text x="504.5" y="2062.5" textLength="118">野菜などに付着する農薬や汚れ</text><path d="M498.5 2067.5H629"/></g>
<g id="n203"><text x="431" y="2143" textLength="67">2、50度洗いすると</text><path d="M425 2148H505.5"/><use href="#b" x="509.5" y="2139"/></g>
<g id="n204"><text x="523" y="2081.5" textLength="91.5">酸化した部分を洗い流す</text><path d="M516.5 2086.5H621.5"/></g>
<g id="n205"><text x="523" y="2100.5" textLength="42">農薬を流す</text><path d="M516.5 2105.5H571.5"/></g>
<g id="n206"><text x="523" y="2147.5" textLength="47">汚れを落とす</text><path d="M516.5 2152.5H576"/><use href="#b" x="580.5" y="2144"/></g>
<g id="n207"><text x="594" y="2147.5" textLength="103.5">アレルギー物質を洗い流せる</text><path d="M588.5 2152.5H704"/><use href="#b" x="708.5" y="2144"/></g>
<g id="n208"><text x="722.5" y="2119" textLength="17.5">農薬</text><path d="M715.5 2124H747"/></g>
<g id="n209"><text x="722.5" y="2138" textLength="36.5">抗生物質</text><path d="M715.5 2143H765.5"/></g>
<g id="n210"><text x="721" y="2157" textLength="26">ワックス</text><path d="M715.5 2162H754.5"/></g>
<g id="n211"><text x="722.5" y="2176" textLength="17.5">花粉</text><path d="M715.5 2181H747"/></g>
<g id="n212"><text x="523" y="2204.5" textLength="62.5">鮮度がよみがえる</text><path d="M516.5 2209.5H592.5"/><use href="#b" x="597.5" y="2201"/></g>
<g id="n213"><text x="610" y="2195" textLength="79">ヒートショックプロテイン</text><path d="M604 2200H695.5"/></g>
<g id="n214"><text x="611" y="2214" textLength="42">味がよくなる</text><path d="M604 2219H661"/></g>
<g id="n215"><text x="431" y="2275.5" textLength="107">3、2の結果、体の負担が減る</text><path d="M425 2280.5H544.5"/><use href="#b" x="549" y="2272"/></g>
<g id="n216"><text x="562.5" y="2242.5" textLength="59">胃の負担が減る</text><path d="M556 2247.5H628.5"/><use href="#b" x="632.5" y="2239"/></g>
<g id="n217"><text x="646.5" y="2233" textLength="78">消化と吸収力の向上</text><path d="M639.5 2238H731"/></g>
<g id="n218"><text x="646.5" y="2252" textLength="111.5">余計なエネルギーの消耗を防ぐ</text><path d="M639.5 2257H765.5"/></g>
<g id="n219"><text x="562.5" y="2280.5" textLength="59">腸の負担が減る</text><path d="M556 2285.5H628.5"/><use href="#b" x="632.5" y="2277"/></g>
<g id="n220"><text x="646.5" y="2271" textLength="86.5">余計な排泄作業が減る</text><path d="M639.5 2276H740.5"/></g>
<g id="n221"><text x="646.5" y="2290" textLength="67.5">腸内環境が上がる</text><path d="M639.5 2295H720"/><use href="#b" x="725.5" y="2286.5"/></g>
<g id="n222"><text x="739" y="2290" textLength="58">消化力が高まる</text><path d="M733 2295H805"/><use href="#b" x="808.5" y="2286.5"/></g>
<g id="n223"><text x="822" y="2290" textLength="44.5">代謝の向上</text><path d="M816 2295H873"/><use href="#b" x="878" y="2286.5"/></g>
<g id="n224"><text x="891" y="2290" textLength="68">腸内温度が上がる</text><path d="M885.5 2295H967"/></g>
<g id="n225"><text x="562.5" y="2309" textLength="68">肝臓の負担が減る</text><path d="M556 2314H638.5"/><use href="#b" x="642" y="2305.5"/></g>
<g id="n226"><text x="655.5" y="2309" textLength="130.5">血液をきれいにすることに集中できる</text><path d="M649.5 2314H792.5"/></g>
<g id="t6"><rect x="252.5" y="2346.5" width="168" height="24" rx="2.5"/><text class="l1" x="259.5" y="2363" textLength="152">⑥低温スチーム調理がいい理由</text><use href="#b" x="424" y="2358.5"/></g>
<g id="n227"><text x="437.5" y="2333" textLength="112.5">1、熟成が進むので消化が早い</text><path d="M432 2338H557"/><use href="#b" x="561" y="2329"/></g>
<g id="n228"><text x="575" y="2333" textLength="67.5">胃腸の負担が減る</text><path d="M569.5 2338H649.5"/><use href="#b" x="654" y="2329"/></g>
<g id="n229"><text x="668" y="2333" textLength="54.5">排泄が早くなる</text><path d="M662 2338H729"/><use href="#b" x="733.5" y="2329"/></g>
<g id="n230"><text x="747" y="2333" textLength="103.5">無駄なエネルギーを使わない</text><path d="M742 2338H857.5"/><use href="#b" x="861.5" y="2329"/></g>
<g id="n231"><text x="875" y="2333" textLength="48.5">疲れにくくなる</text><path d="M870 2338H931"/><use href="#b" x="935.5" y="2329"/></g>
<g id="n232"><text x="949" y="2333" textLength="108">運動などにエネルギーを回せる</text><path d="M943 2338H1065"/></g>
<g id="n233"><text x="437.5" y="2375.5" textLength="151">2、ゆっくり温めるので細胞が異質化しない</text><path d="M432 2380.5H596"/><use href="#b" x="599.5" y="2372"/></g>
<g id="n234"><text x="613" y="2361.5" textLength="85">急激な温度で加熱する</text><path d="M606.5 2366.5H705.5"/><use href="#b" x="710.5" y="2358"/></g>
<g id="n235"><text x="724" y="2352" textLength="18">糖化</text><path d="M717.5 2357H749"/></g>
<g id="n236"><text x="724" y="2371" textLength="44">細胞の変化</text><path d="M717.5 2376H774.5"/><use href="#b" x="779" y="2367.5"/></g>
<g id="n237"><text x="792.5" y="2371" textLength="40">電子レンジ</text><path d="M787 2376H839.5"/></g>
<g id="n238"><text x="613" y="2390" textLength="181.5">結果、肝臓の負担を最小限に抑えることが出来る</text><path d="M606.5 2395H801.5"/></g>
</svg>
